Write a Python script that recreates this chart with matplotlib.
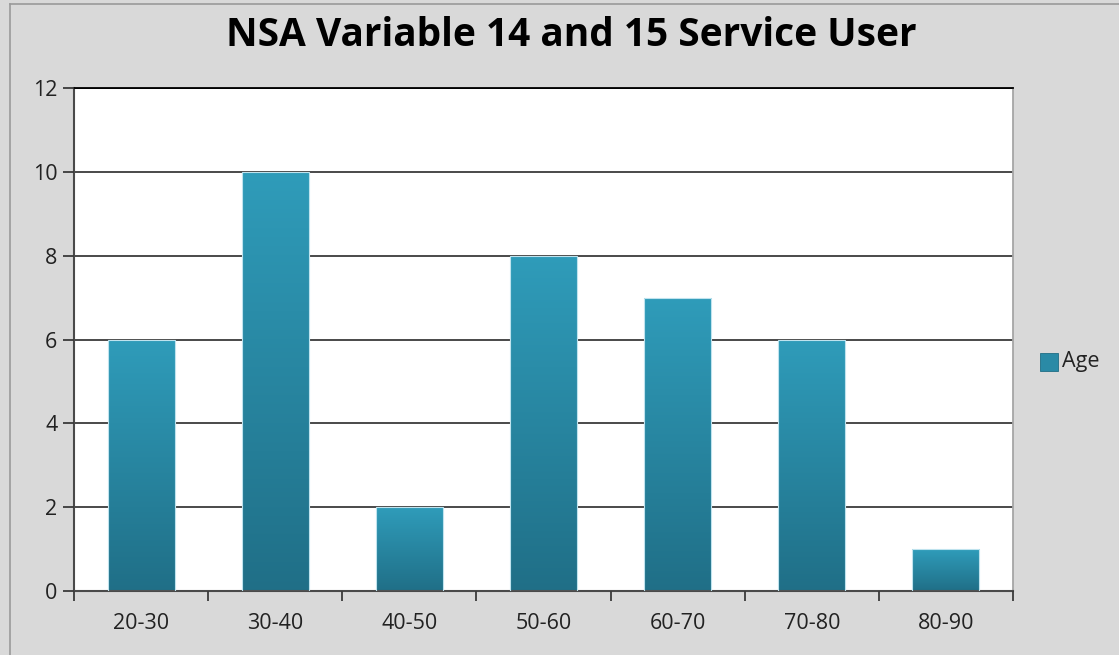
"""
NSA Variable 14 and 15 Service User - age bands
"""
import numpy as np
import matplotlib
matplotlib.use("Agg")
import matplotlib.pyplot as plt
from matplotlib.colors import LinearSegmentedColormap
from matplotlib.patches import Rectangle
from matplotlib.lines import Line2D

# data
age_bands = ["20-30", "30-40", "40-50", "50-60", "60-70", "70-80", "80-90"]
counts = [6, 10, 2, 8, 7, 6, 1]
y_ticks = [0, 2, 4, 6, 8, 10, 12]

plt.rcParams['font.family'] = ['Open Sans', 'DejaVu Sans']

bg = "#d9d9d9"
top_col = "#2f9cba"
bot_col = "#206f87"
grad = LinearSegmentedColormap.from_list("bar", [bot_col, top_col])

fig = plt.figure(figsize=(11.19, 6.55), dpi=100, facecolor=bg)
ax = fig.add_axes([74 / 1119, 1 - 591 / 655, 939 / 1119, 503 / 655])
ax.set_facecolor("white")

x = np.arange(len(age_bands))
ax.set_xlim(-0.5, len(age_bands) - 0.5)
ax.set_ylim(0, 12)

# gridlines under the bars
for t in y_ticks[1:]:
    ax.axhline(t, color="#3a3a3a" if t < 12 else "black", lw=1.3, zorder=1)

# bars with vertical gradient, each bar its own gradient
bars = ax.bar(x, counts, width=0.5, color="none", edgecolor="#bfe3ee", lw=0.8, zorder=3)
g = np.linspace(0, 1, 256).reshape(-1, 1)
for b in bars:
    x0, y0 = b.get_x(), b.get_y()
    w, h = b.get_width(), b.get_height()
    im = ax.imshow(g, cmap=grad, origin="lower", aspect="auto",
                   extent=[x0, x0 + w, y0, y0 + h], zorder=2)
    im.set_clip_path(Rectangle((x0, y0), w, h, transform=ax.transData))

ax.set_yticks(y_ticks)
ax.set_xticks(x)
ax.set_xticklabels(age_bands)
ax.set_xticks(np.arange(-0.5, len(age_bands)), minor=True)
ax.tick_params(axis="x", which="major", length=0, pad=16, labelsize=15.5, colors="#222222")
ax.tick_params(axis="x", which="minor", length=7, width=1.3, color="#3a3a3a", direction="out")
ax.tick_params(axis="y", length=8, width=1.3, color="#3a3a3a", pad=4, labelsize=15.5, labelcolor="#222222")

for s in ["left", "bottom"]:
    ax.spines[s].set_color("#4a4a4a")
    ax.spines[s].set_linewidth(1.5)
ax.spines["top"].set_color("black")
ax.spines["top"].set_linewidth(1.3)
ax.spines["right"].set_color("#a6a6a6")
ax.spines["right"].set_linewidth(1.3)
ax.set_axisbelow(False)

fig.text(571 / 1119, 1 - 35 / 655, "NSA Variable 14 and 15 Service User",
         ha="center", va="center", fontsize=28, fontweight="bold")

# legend
fig.patches.append(Rectangle((1040 / 1119, 1 - 371 / 655), 18 / 1119, 18 / 655,
                             transform=fig.transFigure, facecolor="#2a8aa6",
                             edgecolor="#1f6e85", lw=0.6))
fig.text(1062 / 1119, 1 - 361 / 655, "Age", ha="left", va="center", fontsize=15.5, color="#222222")

# outer border lines of the original chart frame
fig.add_artist(Line2D([10 / 1119, 1], [1 - 4 / 655, 1 - 4 / 655], color="#9a9a9a", lw=1.2, transform=fig.transFigure))
fig.add_artist(Line2D([10 / 1119, 10 / 1119], [0, 1 - 4 / 655], color="#9a9a9a", lw=1.2, transform=fig.transFigure))

fig.savefig("out.png", dpi=100, facecolor=bg)
